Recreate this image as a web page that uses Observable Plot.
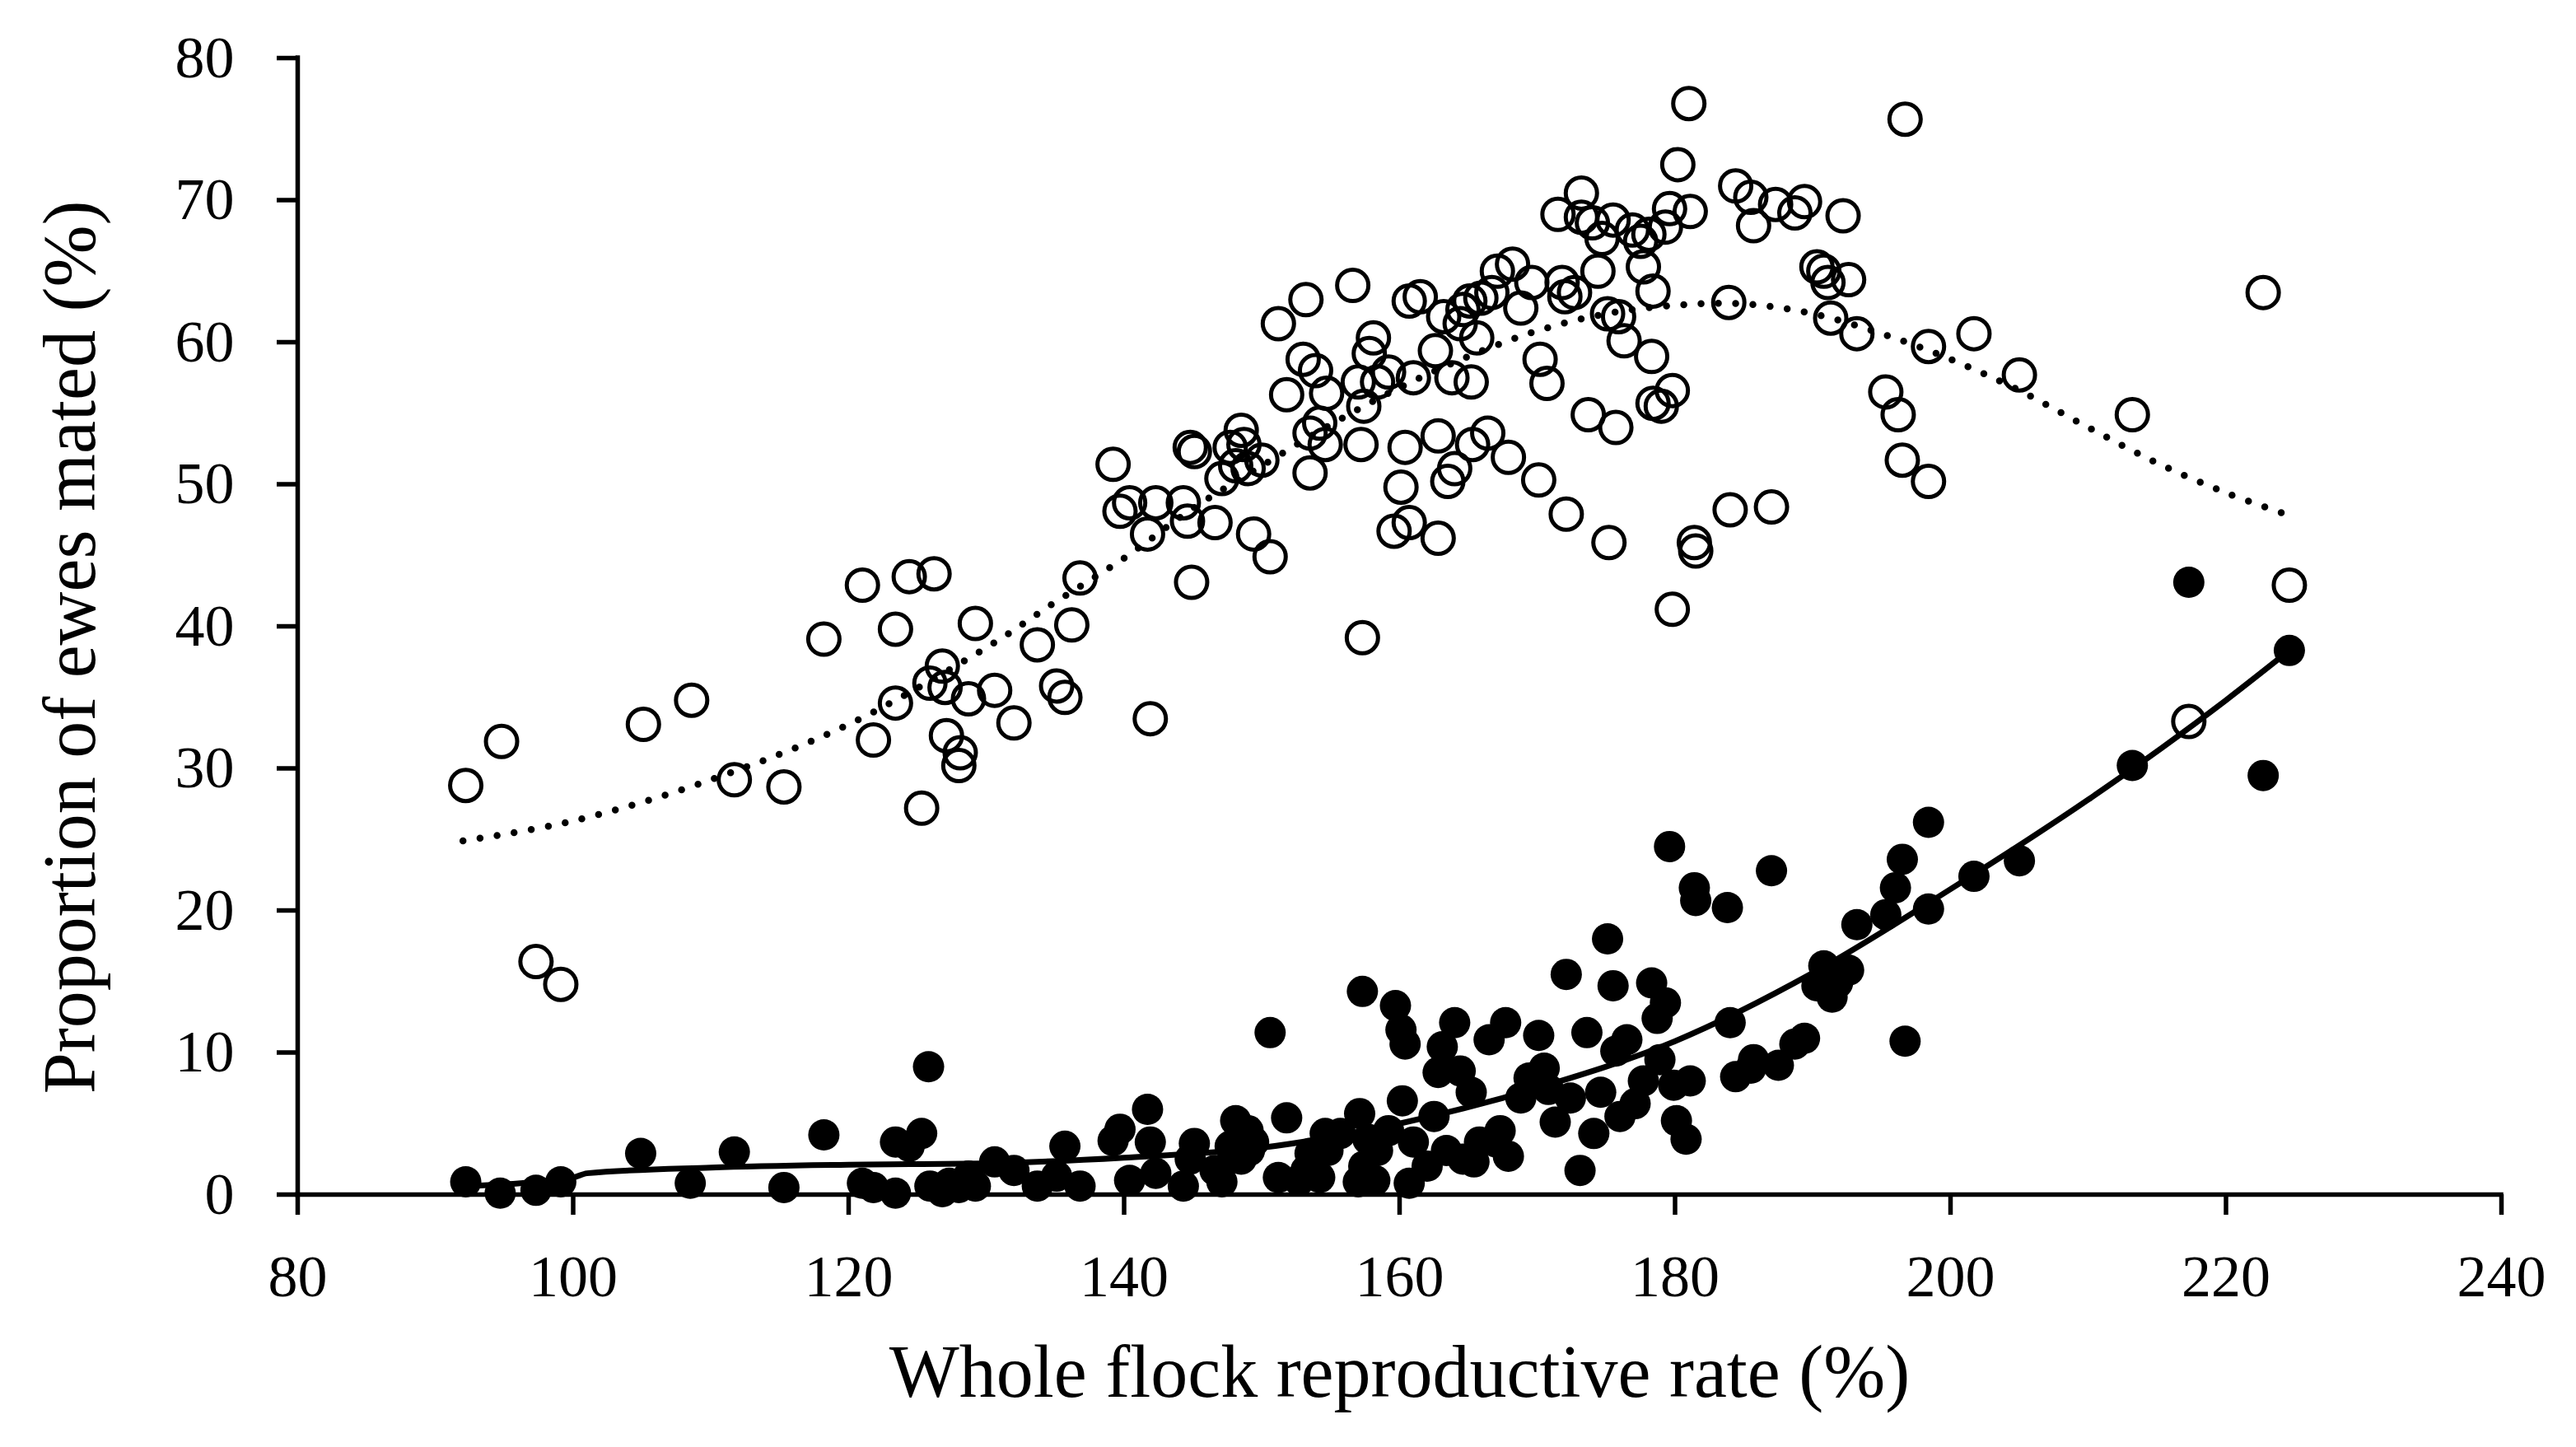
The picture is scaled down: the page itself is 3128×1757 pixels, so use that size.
<!DOCTYPE html>
<html>
<head>
<meta charset="utf-8">
<script src="https://cdn.jsdelivr.net/npm/d3@7"></script>
<script src="https://cdn.jsdelivr.net/npm/@observablehq/plot@0.6"></script>
<style>
  html, body { margin: 0; padding: 0; background: #fff; }
  #chart svg { display: block; }
</style>
</head>
<body>
<div id="chart"></div>
<script>
// Open circles (x = whole flock reproductive rate %, y = proportion of ewes mated %)
const openX = [92.2,94.8,97.3,99.1,105.1,108.6,111.7,115.3,118.2,121.0,121.8,123.4,123.4,124.4,126.2,125.3,125.9,126.8,127.0,127.1,128.1,128.0,128.7,129.2,130.6,132.0,133.7,135.1,135.7,136.2,136.8,139.2,139.7,140.4,141.9,141.7,142.3,144.3,144.6,144.8,145.1,144.9,146.6,147.1,147.7,148.1,148.5,148.7,149.0,149.4,150.0,150.6,151.2,151.8,153.2,153.0,153.5,153.5,153.9,154.2,154.6,154.7,156.6,157.0,157.2,157.3,157.4,157.8,158.1,158.4,159.2,159.6,160.1,160.4,160.7,160.7,161.0,161.5,162.6,162.8,162.8,163.2,163.5,163.8,164.0,164.4,164.6,165.1,165.2,165.3,165.6,165.9,166.4,166.7,167.1,167.9,168.2,168.8,169.6,170.1,170.2,170.7,171.5,171.8,172.0,172.1,172.7,173.2,173.2,173.7,174.0,174.4,174.7,175.1,175.2,175.5,175.7,175.9,176.3,176.9,177.5,177.7,178.1,178.3,178.4,178.4,179.0,179.3,179.6,179.8,179.8,180.2,181.0,181.1,181.4,181.5,183.9,184.0,184.4,185.5,185.7,187.3,187.0,188.7,189.4,190.3,190.8,191.1,191.3,192.2,192.6,193.2,195.3,196.2,196.5,196.7,198.4,198.4,201.7,205.0,213.2,217.3,222.7,224.6];
const openY = [28.8,31.9,16.4,14.8,33.1,34.8,29.2,28.7,39.1,42.9,32.0,39.8,34.6,43.5,43.7,27.2,36.0,37.2,35.7,32.3,31.1,30.2,34.9,40.2,35.5,33.2,38.7,35.8,35.0,40.1,43.4,51.4,48.1,48.7,33.5,46.5,48.7,48.7,47.4,52.6,52.3,43.1,47.3,50.4,52.6,51.3,53.8,52.8,51.1,46.5,51.7,44.9,61.3,56.3,63.0,58.8,50.8,53.6,58.0,54.3,52.8,56.4,64.0,57.2,52.8,39.2,55.5,59.2,60.3,57.2,57.9,46.7,49.8,52.6,47.3,62.9,57.5,63.2,59.4,46.2,53.4,61.8,50.2,57.5,51.1,61.3,62.3,62.9,57.2,52.8,60.3,63.1,53.6,63.5,65.0,51.9,65.5,62.4,64.2,50.3,58.8,57.1,69.0,64.2,63.2,47.9,63.5,70.5,68.8,54.9,68.4,65.0,67.3,62.0,45.9,68.6,54.0,61.8,60.1,67.9,67.1,65.3,67.6,59.0,63.6,55.7,55.5,68.1,69.4,41.2,56.6,72.5,76.8,69.2,45.9,45.3,62.8,48.2,71.0,70.2,68.2,69.7,48.4,69.1,69.9,65.3,65.0,64.2,61.7,68.9,64.4,60.6,56.5,54.9,51.7,75.7,50.2,59.7,60.6,57.7,54.9,33.3,63.5,42.9];

// Filled circles
const filledX = [92.2,94.7,97.3,99.1,104.9,108.5,111.7,115.3,118.2,121.0,121.8,123.4,123.4,124.4,125.3,125.8,125.9,126.8,127.3,128.0,128.7,129.2,130.6,132.0,133.7,135.1,135.7,136.8,139.2,139.7,140.4,141.7,141.9,142.3,144.3,144.8,145.1,146.6,147.1,147.7,148.1,148.5,149.0,149.4,149.1,150.6,151.2,151.8,152.7,153.2,153.5,154.2,154.6,154.8,155.7,157.0,157.1,157.3,157.4,157.7,158.2,158.4,159.2,159.7,160.1,160.2,160.4,160.7,161.0,162.0,162.5,162.8,163.1,163.4,164.0,164.4,164.6,165.2,165.4,165.8,166.5,167.0,167.3,167.7,167.9,168.8,169.4,170.1,170.5,170.8,171.3,172.1,172.4,173.1,173.6,174.1,174.6,175.1,175.5,175.7,176.0,176.5,177.1,177.7,178.3,178.7,178.9,179.3,179.6,179.9,180.1,180.8,181.1,181.4,181.5,183.8,184.0,184.4,185.5,185.7,187.0,187.5,188.7,189.4,190.3,190.8,191.4,191.8,192.6,193.2,195.3,196.0,196.5,196.7,198.4,198.4,201.7,205.0,213.2,217.3,222.7,224.6];
const filledY = [0.9,0.1,0.3,0.9,2.9,0.8,3.0,0.5,4.2,0.8,0.5,3.7,0.1,3.4,4.3,9.0,0.6,0.2,0.8,0.5,1.3,0.6,2.3,1.7,0.6,1.3,3.4,0.6,3.8,4.6,1.0,6.0,3.7,1.5,0.6,2.5,3.6,1.7,0.9,3.4,5.2,2.5,4.5,3.7,3.1,11.4,1.2,5.4,1.0,1.7,2.9,1.2,4.3,3.1,4.3,0.9,5.7,14.3,2.0,3.9,1.0,3.1,4.5,13.3,11.6,6.6,10.6,0.8,3.7,2.0,5.5,8.6,10.4,3.1,12.1,8.7,2.5,7.2,2.3,3.7,10.9,3.7,4.5,12.1,2.7,6.8,8.2,11.2,8.9,7.4,5.1,15.5,6.8,1.7,11.4,4.3,7.2,18.0,14.7,10.1,5.5,10.9,6.4,8.0,14.9,12.4,9.5,13.5,24.5,7.7,5.2,3.9,8.0,21.6,20.7,20.2,12.1,8.3,8.9,9.5,22.8,9.1,10.6,11.0,14.7,16.1,13.9,14.9,15.8,19.0,19.7,21.6,23.6,10.8,26.2,20.1,22.4,23.5,30.2,43.1,29.5,38.3];

// Fitted trend for open circles (dotted)
const trendOpenX = [92,100,110,120,130,135,140,145,150,155,160,165,170,175,180,185,190,195,200,205,210,215,220,224.6];
const trendOpenY = [24.9,26.3,29.2,33.1,38.5,41.7,44.8,48.3,51.3,54.2,56.8,59.0,60.8,62.0,62.6,62.7,62.0,60.6,58.8,56.6,54.0,51.5,49.4,47.8];

// Fitted trend for filled circles (solid)
const trendFilledX = [92,100,101,110,120,130,140,150,160,170,180,190,200,210,220,224.6];
const trendFilledY = [0.6,1.2,1.5,1.9,2.1,2.2,2.6,3.3,5.0,7.5,10.8,15.6,21.5,27.8,34.8,38.3];

const xTicks = [80,100,120,140,160,180,200,220,240];
const yTicks = [0,10,20,30,40,50,60,70,80];

const xTitle = "Whole flock reproductive rate (%)";
const yTitle = "Proportion of ewes mated (%)";

const openData = openX.map((x, i) => ({x, y: openY[i]}));
const filledData = filledX.map((x, i) => ({x, y: filledY[i]}));
const trendOpen = trendOpenX.map((x, i) => ({x, y: trendOpenY[i]}));
const trendFilled = trendFilledX.map((x, i) => ({x, y: trendFilledY[i]}));

const FONT = "'Liberation Serif', serif";

const chart = Plot.plot({
  width: 3128,
  height: 1757,
  marginLeft: 361,
  marginRight: 91,
  marginTop: 70,
  marginBottom: 307,
  style: {fontFamily: FONT, background: "#fff", color: "#000"},
  x: {domain: [80, 240]},
  y: {domain: [0, 80]},
  marks: [
    Plot.dot(filledData, {x: "x", y: "y", r: 19, fill: "#000"}),
    Plot.dot(openData, {x: "x", y: "y", r: 19, fill: "none", stroke: "#000", strokeWidth: 5}),
    Plot.line(trendFilled, {x: "x", y: "y", stroke: "#000", strokeWidth: 7, curve: "monotone-x"}),
    Plot.line(trendOpen, {x: "x", y: "y", stroke: "#000", strokeWidth: 8.5, strokeDasharray: "0,21", strokeLinecap: "round", curve: "catmull-rom"}),
    Plot.ruleX([80], {stroke: "#000", strokeWidth: 5.5, strokeLinecap: "square"}),
    Plot.ruleY([0], {stroke: "#000", strokeWidth: 5.5, strokeLinecap: "square"}),
    Plot.axisX({ticks: xTicks, tickSize: 25, tickPadding: 47, strokeWidth: 5.5, fontSize: 72, tickFormat: d => String(d), label: null}),
    Plot.axisY({ticks: yTicks, tickSize: 25, tickPadding: 52, strokeWidth: 5.5, fontSize: 72, tickFormat: d => String(d), label: null}),
    Plot.text([xTitle], {frameAnchor: "bottom", dy: 245, fontSize: 90, fill: "#000"})
  ]
});

// Rotated y-axis title, placed beside the frame
const svg = d3.select(chart);
const frameMidY = (70 + (1757 - 307)) / 2;
svg.append("text")
  .attr("transform", `translate(86,${frameMidY + 26}) rotate(-90)`)
  .attr("text-anchor", "middle")
  .attr("dy", "0.32em")
  .attr("font-family", FONT)
  .attr("font-size", 90)
  .attr("fill", "#000")
  .text(yTitle);

document.getElementById("chart").appendChild(chart);
</script>
</body>
</html>
